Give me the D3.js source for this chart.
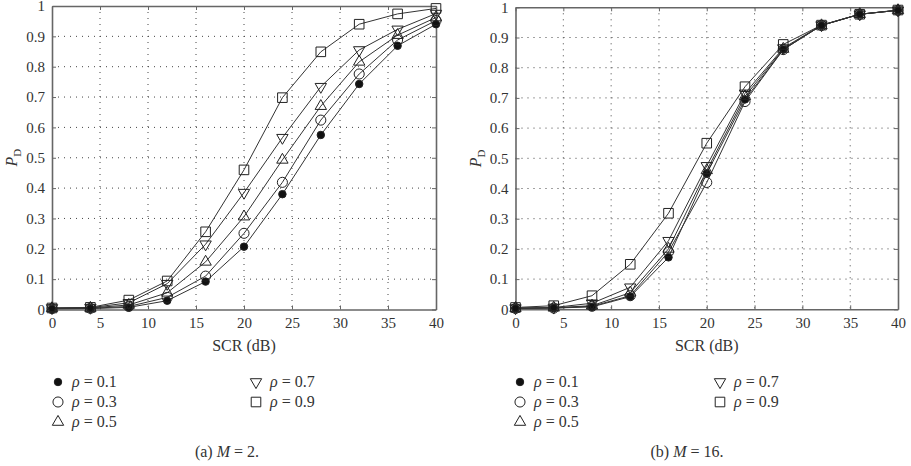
<!DOCTYPE html>
<html>
<head>
<meta charset="utf-8">
<script src="https://cdn.jsdelivr.net/npm/d3@7"></script>
<style>
  body { margin: 0; background: #fff; }
  svg { display: block; }
  .tick-label { font-size: 15px; fill: #333; }
  .axis-label { font-size: 16px; fill: #333; }
  .grid-line { stroke: #444; stroke-width: 1; stroke-dasharray: 1,5; }
</style>
</head>
<body>
<svg id="chart" width="911" height="466" viewBox="0 0 911 466" font-family="'Liberation Serif', 'Times New Roman', 'DejaVu Serif', serif"></svg>
<script>
const snrValues = [0, 4, 8, 12, 16, 20, 24, 28, 32, 36, 40];
const xTickValues = [0, 5, 10, 15, 20, 25, 30, 35, 40];
const yTickValues = [0, 0.1, 0.2, 0.3, 0.4, 0.5, 0.6, 0.7, 0.8, 0.9, 1];
const rhoLabels = ["0.1", "0.3", "0.5", "0.7", "0.9"];
const markerKinds = ["dot", "circle", "triangleUp", "triangleDown", "square"];

// panel (a) M = 2
const pdM2Rho01 = [0.002, 0.003, 0.007, 0.029, 0.092, 0.207, 0.38, 0.575, 0.743, 0.869, 0.94];
const pdM2Rho03 = [0.003, 0.004, 0.010, 0.040, 0.110, 0.251, 0.419, 0.624, 0.776, 0.888, 0.952];
const pdM2Rho05 = [0.004, 0.005, 0.015, 0.055, 0.157, 0.306, 0.493, 0.670, 0.816, 0.904, 0.962];
const pdM2Rho07 = [0.005, 0.006, 0.022, 0.085, 0.215, 0.385, 0.566, 0.734, 0.855, 0.923, 0.975];
const pdM2Rho09 = [0.005, 0.007, 0.031, 0.094, 0.256, 0.460, 0.698, 0.849, 0.940, 0.974, 0.992];

// panel (b) M = 16
const pdM16Rho01 = [0.003, 0.004, 0.008, 0.042, 0.172, 0.450, 0.695, 0.860, 0.940, 0.977, 0.990];
const pdM16Rho03 = [0.003, 0.004, 0.010, 0.045, 0.190, 0.420, 0.688, 0.860, 0.940, 0.977, 0.990];
const pdM16Rho05 = [0.004, 0.005, 0.012, 0.055, 0.200, 0.460, 0.705, 0.862, 0.940, 0.977, 0.990];
const pdM16Rho07 = [0.004, 0.006, 0.020, 0.073, 0.227, 0.475, 0.715, 0.865, 0.941, 0.977, 0.990];
const pdM16Rho09 = [0.006, 0.012, 0.045, 0.149, 0.318, 0.550, 0.737, 0.877, 0.941, 0.977, 0.991];

const panelA = [pdM2Rho01, pdM2Rho03, pdM2Rho05, pdM2Rho07, pdM2Rho09];
const panelB = [pdM16Rho01, pdM16Rho03, pdM16Rho05, pdM16Rho07, pdM16Rho09];

const svg = d3.select("#chart");

function markerPath(kind) {
  if (kind === "dot") return d3.symbol(d3.symbolCircle, 44)();
  if (kind === "circle") return d3.symbol(d3.symbolCircle, 80)();
  if (kind === "square") return d3.symbol(d3.symbolSquare, 92)();
  return d3.symbol(d3.symbolTriangle, 56)();
}

function addMarker(parent, kind, x, y) {
  const rotate = kind === "triangleDown" ? " rotate(180)" : "";
  parent.append("path")
    .attr("d", markerPath(kind))
    .attr("transform", `translate(${x},${y})${rotate}`)
    .attr("fill", kind === "dot" ? "#111" : "#fff")
    .attr("fill-opacity", kind === "dot" ? 1 : 0)
    .attr("stroke", "#222")
    .attr("stroke-width", 1);
}

function drawPanel(seriesList, box, legend, caption) {
  const g = svg.append("g");
  const xScale = d3.scaleLinear().domain([0, 40]).range([box.left, box.right]);
  const yScale = d3.scaleLinear().domain([0, 1]).range([box.bottom, box.top]);

  // grid
  g.append("g").selectAll("line")
    .data(yTickValues.slice(1, -1))
    .join("line")
    .attr("class", "grid-line")
    .attr("x1", box.left).attr("x2", box.right)
    .attr("y1", d => yScale(d)).attr("y2", d => yScale(d));
  g.append("g").selectAll("line")
    .data(xTickValues.slice(1, -1))
    .join("line")
    .attr("class", "grid-line")
    .attr("y1", box.top).attr("y2", box.bottom)
    .attr("x1", d => xScale(d)).attr("x2", d => xScale(d));

  // axes with inward ticks (matlab style)
  const axisStyle = sel => {
    sel.attr("font-family", null).attr("font-size", null);
    sel.select(".domain").attr("stroke", "#666").attr("stroke-width", 1.6);
    sel.selectAll(".tick line").attr("stroke", "#666");
    sel.selectAll(".tick text").attr("class", "tick-label");
  };
  g.append("g")
    .attr("transform", `translate(0,${box.bottom})`)
    .call(d3.axisBottom(xScale).tickValues(xTickValues).tickSizeInner(-4).tickSizeOuter(0).tickPadding(8).tickFormat(d3.format("d")))
    .call(axisStyle);
  g.append("g")
    .attr("transform", `translate(0,${box.top})`)
    .call(d3.axisTop(xScale).tickValues(xTickValues).tickSizeInner(-4).tickSizeOuter(0).tickFormat(""))
    .call(axisStyle);
  g.append("g")
    .attr("transform", `translate(${box.left},0)`)
    .call(d3.axisLeft(yScale).tickValues(yTickValues).tickSizeInner(-4).tickSizeOuter(0).tickPadding(7).tickFormat(d => d === 0 ? "0" : d === 1 ? "1" : d3.format(".1f")(d)))
    .call(axisStyle);
  g.append("g")
    .attr("transform", `translate(${box.right},0)`)
    .call(d3.axisRight(yScale).tickValues(yTickValues).tickSizeInner(-4).tickSizeOuter(0).tickFormat(""))
    .call(axisStyle);

  // curves
  const line = d3.line()
    .x((d, i) => xScale(snrValues[i]))
    .y(d => yScale(d));
  g.append("g").selectAll("path")
    .data(seriesList)
    .join("path")
    .attr("d", values => line(values))
    .attr("fill", "none")
    .attr("stroke", "#333")
    .attr("stroke-width", 1);

  seriesList.forEach((values, seriesIndex) => {
    const markers = g.append("g");
    values.forEach((value, i) => {
      addMarker(markers, markerKinds[seriesIndex], xScale(snrValues[i]), yScale(value));
    });
  });

  // axis titles
  const midX = (box.left + box.right) / 2;
  g.append("text")
    .attr("class", "axis-label")
    .attr("x", midX).attr("y", 351)
    .attr("text-anchor", "middle")
    .text("SCR (dB)");
  const yLabel = g.append("text")
    .attr("class", "axis-label")
    .attr("transform", `translate(${box.left - 35},${(box.top + box.bottom) / 2}) rotate(-90)`)
    .attr("text-anchor", "middle");
  yLabel.append("tspan").attr("font-style", "italic").text("P");
  yLabel.append("tspan").attr("font-size", "11px").attr("dy", 4).text("D");

  // legend
  rhoLabels.forEach((label, i) => {
    const col = i < 3 ? 0 : 1;
    const row = i < 3 ? i : i - 3;
    const sx = legend.x + col * legend.colGap;
    const sy = legend.y + row * 20;
    addMarker(g, markerKinds[i], sx, sy);
    const t = g.append("text")
      .attr("class", "axis-label")
      .attr("x", sx + 14).attr("y", sy + 5);
    t.append("tspan").attr("font-style", "italic").text("ρ");
    t.append("tspan").text(" = " + label);
  });

  const cap = g.append("text")
    .attr("class", "axis-label")
    .attr("x", caption.x).attr("y", 457)
    .attr("text-anchor", "middle");
  cap.append("tspan").text(caption.tag + "  ");
  cap.append("tspan").attr("font-style", "italic").text("M");
  cap.append("tspan").text(" = " + caption.value + ".");
}

drawPanel(panelA,
  { left: 52, right: 436, top: 6, bottom: 309.5 },
  { x: 58, y: 382, colGap: 198 },
  { x: 227, tag: "(a)", value: "2" });
drawPanel(panelB,
  { left: 515.5, right: 898, top: 7.3, bottom: 309.3 },
  { x: 520, y: 382, colGap: 200 },
  { x: 687, tag: "(b)", value: "16" });
</script>
</body>
</html>
